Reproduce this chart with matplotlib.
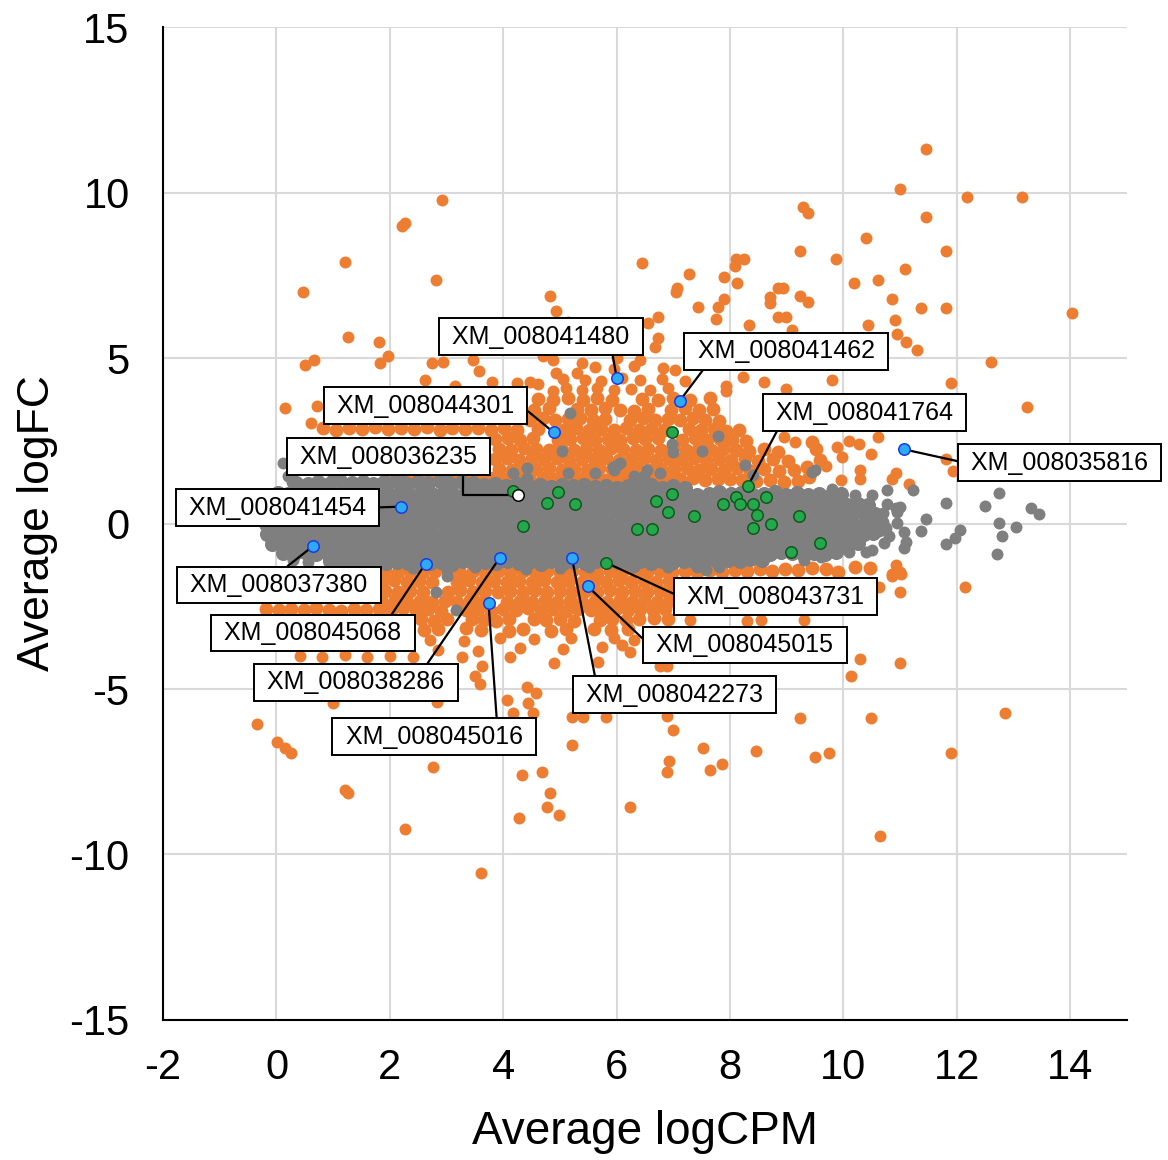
import matplotlib
matplotlib.use('Agg')
import matplotlib.pyplot as plt

plt.rcParams['font.family'] = ['Liberation Sans', 'DejaVu Sans']
plt.rcParams['axes.unicode_minus'] = False

ORANGE = '#ED7D31'
GREY = '#7F7F7F'

# grey band: genes that are not significant (logCPM, logFC)
grey_core = [
    (0.35, 1.22), (0.55, 1.18), (0.74, 1.25), (0.93, 1.2), (1.12, 1.27), (1.33, 1.21), (1.52, 1.26), (1.71, 1.19),
    (1.9, 1.24), (2.1, 1.28), (2.3, 1.2), (2.49, 1.25), (2.68, 1.22), (2.88, 1.27), (3.07, 1.19), (3.27, 1.24),
    (3.46, 1.21), (3.66, 1.16), (3.86, 1.2), (4.05, 1.14), (4.25, 1.18), (4.45, 1.12), (4.64, 1.17), (4.84, 1.1),
    (5.03, 1.15), (5.23, 1.12), (5.42, 1.17), (5.62, 1.1), (5.81, 1.14), (6.01, 1.08), (6.2, 1.13), (6.4, 1.1),
    (6.6, 1.15), (6.8, 1.08), (7.0, 1.12), (7.2, 1.06),
    (0.02, 0.92), (0.21, 0.88), (0.4, 0.93), (0.6, 0.87), (0.79, 0.91), (0.99, 0.86), (1.18, 0.92), (1.38, 0.88),
    (1.57, 0.9), (1.77, 0.85), (1.96, 0.92), (2.16, 0.89), (2.35, 0.86), (2.55, 0.91), (2.74, 0.88), (2.94, 0.93),
    (3.13, 0.87), (3.33, 0.9), (3.52, 0.86), (3.72, 0.92), (3.91, 0.88), (4.11, 0.9), (4.3, 0.86), (4.5, 0.91),
    (4.69, 0.87), (4.89, 0.92), (5.08, 0.88), (5.28, 0.9), (5.47, 0.86), (5.67, 0.91), (5.86, 0.87), (6.06, 0.92),
    (6.25, 0.88), (6.45, 0.9), (6.64, 0.85), (6.84, 0.91), (7.03, 0.88), (7.23, 0.92), (7.42, 0.87), (7.62, 0.9),
    (7.81, 0.94), (8.01, 0.88), (8.2, 0.92), (8.4, 0.86), (8.59, 0.9), (8.79, 0.95), (8.98, 0.87), (9.18, 0.91),
    (9.37, 0.86), (9.57, 0.9), (9.76, 0.84), (9.95, 0.88),
    (-0.08, 0.58), (0.11, 0.62), (0.31, 0.57), (0.5, 0.61), (0.7, 0.59), (0.89, 0.63), (1.09, 0.57), (1.28, 0.6),
    (1.48, 0.62), (1.67, 0.58), (1.87, 0.61), (2.06, 0.57), (2.26, 0.63), (2.45, 0.59), (2.65, 0.6), (2.84, 0.56),
    (3.04, 0.62), (3.23, 0.58), (3.43, 0.61), (3.62, 0.57), (3.82, 0.6), (4.01, 0.63), (4.21, 0.58), (4.4, 0.61),
    (4.6, 0.57), (4.79, 0.62), (4.99, 0.59), (5.18, 0.6), (5.38, 0.56), (5.57, 0.62), (5.77, 0.58), (5.96, 0.61),
    (6.16, 0.57), (6.35, 0.6), (6.55, 0.63), (6.74, 0.58), (6.94, 0.61), (7.13, 0.57), (7.33, 0.62), (7.52, 0.59),
    (7.72, 0.6), (7.91, 0.56), (8.11, 0.62), (8.3, 0.58), (8.5, 0.61), (8.69, 0.57), (8.89, 0.6), (9.08, 0.63),
    (9.28, 0.58), (9.47, 0.61), (9.67, 0.57), (9.86, 0.6), (10.06, 0.56), (10.25, 0.6), (10.43, 0.55),
    (-0.14, 0.28), (0.05, 0.32), (0.25, 0.27), (0.44, 0.31), (0.64, 0.29), (0.83, 0.33), (1.03, 0.27), (1.22, 0.3),
    (1.42, 0.32), (1.61, 0.28), (1.81, 0.31), (2.0, 0.27), (2.2, 0.33), (2.39, 0.29), (2.59, 0.3), (2.78, 0.26),
    (2.98, 0.32), (3.17, 0.28), (3.37, 0.31), (3.56, 0.27), (3.76, 0.3), (3.95, 0.33), (4.15, 0.28), (4.34, 0.31),
    (4.54, 0.27), (4.73, 0.32), (4.93, 0.29), (5.12, 0.3), (5.32, 0.26), (5.51, 0.32), (5.71, 0.28), (5.9, 0.31),
    (6.1, 0.27), (6.29, 0.3), (6.49, 0.33), (6.68, 0.28), (6.88, 0.31), (7.07, 0.27), (7.27, 0.32), (7.46, 0.29),
    (7.66, 0.3), (7.85, 0.26), (8.05, 0.32), (8.24, 0.28), (8.44, 0.31), (8.63, 0.27), (8.83, 0.3), (9.02, 0.33),
    (9.22, 0.28), (9.41, 0.31), (9.61, 0.27), (9.8, 0.3), (10.0, 0.26), (10.19, 0.31), (10.39, 0.27), (10.56, 0.3),
    (-0.19, -0.02), (0.0, 0.02), (0.2, -0.03), (0.39, 0.01), (0.59, -0.01), (0.78, 0.03), (0.98, -0.03), (1.17, 0.0),
    (1.37, 0.02), (1.56, -0.02), (1.76, 0.01), (1.95, -0.03), (2.15, 0.03), (2.34, -0.01), (2.54, 0.0), (2.73, -0.04),
    (2.93, 0.02), (3.12, -0.02), (3.32, 0.01), (3.51, -0.03), (3.71, 0.0), (3.9, 0.03), (4.1, -0.02), (4.29, 0.01),
    (4.49, -0.03), (4.68, 0.02), (4.88, -0.01), (5.07, 0.0), (5.27, -0.04), (5.46, 0.02), (5.66, -0.02), (5.85, 0.01),
    (6.05, -0.03), (6.24, 0.0), (6.44, 0.03), (6.63, -0.02), (6.83, 0.01), (7.02, -0.03), (7.22, 0.02), (7.41, -0.01),
    (7.61, 0.0), (7.8, -0.04), (8.0, 0.02), (8.19, -0.02), (8.39, 0.01), (8.58, -0.03), (8.78, 0.0), (8.97, 0.03),
    (9.17, -0.02), (9.36, 0.01), (9.56, -0.03), (9.75, 0.0), (9.95, -0.04), (10.14, 0.01), (10.34, -0.03), (10.52, 0.02),
    (-0.16, -0.32), (0.03, -0.28), (0.23, -0.33), (0.42, -0.29), (0.62, -0.31), (0.81, -0.27), (1.01, -0.33), (1.2, -0.3),
    (1.4, -0.28), (1.59, -0.32), (1.79, -0.29), (1.98, -0.33), (2.18, -0.27), (2.37, -0.31), (2.57, -0.3), (2.76, -0.34),
    (2.96, -0.28), (3.15, -0.32), (3.35, -0.29), (3.54, -0.33), (3.74, -0.3), (3.93, -0.27), (4.13, -0.32), (4.32, -0.29),
    (4.52, -0.33), (4.71, -0.28), (4.91, -0.31), (5.1, -0.3), (5.3, -0.34), (5.49, -0.28), (5.69, -0.32), (5.88, -0.29),
    (6.08, -0.33), (6.27, -0.3), (6.47, -0.27), (6.66, -0.32), (6.86, -0.29), (7.05, -0.33), (7.25, -0.28), (7.44, -0.31),
    (7.64, -0.3), (7.83, -0.34), (8.03, -0.28), (8.22, -0.32), (8.42, -0.29), (8.61, -0.33), (8.81, -0.3), (9.0, -0.27),
    (9.2, -0.32), (9.39, -0.29), (9.59, -0.33), (9.78, -0.3), (9.98, -0.34), (10.17, -0.29), (10.37, -0.33), (10.52, -0.28),
    (-0.08, -0.62), (0.11, -0.58), (0.31, -0.63), (0.5, -0.59), (0.7, -0.61), (0.89, -0.57), (1.09, -0.63), (1.28, -0.6),
    (1.48, -0.58), (1.67, -0.62), (1.87, -0.59), (2.06, -0.63), (2.26, -0.57), (2.45, -0.61), (2.65, -0.6), (2.84, -0.64),
    (3.04, -0.58), (3.23, -0.62), (3.43, -0.59), (3.62, -0.63), (3.82, -0.6), (4.01, -0.57), (4.21, -0.62), (4.4, -0.59),
    (4.6, -0.63), (4.79, -0.58), (4.99, -0.61), (5.18, -0.6), (5.38, -0.64), (5.57, -0.58), (5.77, -0.62), (5.96, -0.59),
    (6.16, -0.63), (6.35, -0.6), (6.55, -0.57), (6.74, -0.62), (6.94, -0.59), (7.13, -0.63), (7.33, -0.58), (7.52, -0.61),
    (7.72, -0.6), (7.91, -0.64), (8.11, -0.58), (8.3, -0.62), (8.5, -0.59), (8.69, -0.63), (8.89, -0.6), (9.08, -0.57),
    (9.28, -0.62), (9.47, -0.59), (9.67, -0.63), (9.86, -0.6), (10.06, -0.64), (10.25, -0.58),
    (0.12, -0.88), (0.31, -0.92), (0.51, -0.87), (0.7, -0.91), (0.9, -0.89), (1.09, -0.93), (1.29, -0.87), (1.48, -0.9),
    (1.68, -0.92), (1.87, -0.88), (2.07, -0.91), (2.26, -0.87), (2.46, -0.93), (2.65, -0.89), (2.85, -0.9), (3.04, -0.86),
    (3.24, -0.92), (3.43, -0.88), (3.63, -0.91), (3.82, -0.87), (4.02, -0.9), (4.21, -0.93), (4.41, -0.88), (4.6, -0.91),
    (4.8, -0.87), (4.99, -0.92), (5.19, -0.89), (5.38, -0.9), (5.58, -0.86), (5.77, -0.92), (5.97, -0.88), (6.16, -0.91),
    (6.36, -0.87), (6.55, -0.9), (6.75, -0.93), (6.94, -0.88), (7.14, -0.91), (7.33, -0.87), (7.53, -0.92), (7.72, -0.89),
    (7.92, -0.9), (8.11, -0.86), (8.31, -0.92), (8.5, -0.88), (8.7, -0.91), (8.89, -0.87), (9.09, -0.9), (9.28, -0.93),
    (9.48, -0.88), (9.67, -0.91), (9.87, -0.86),
    (0.95, -1.12), (1.15, -1.17), (1.34, -1.13), (1.54, -1.18), (1.73, -1.14), (1.93, -1.2), (2.12, -1.15), (2.32, -1.19),
    (2.51, -1.13), (2.71, -1.18), (2.9, -1.16), (3.1, -1.21), (3.29, -1.14), (3.49, -1.19), (3.68, -1.15), (3.88, -1.2),
    (4.07, -1.13), (4.27, -1.18), (4.46, -1.16), (4.66, -1.21), (4.85, -1.14), (5.05, -1.19), (5.24, -1.15), (5.44, -1.2),
    (5.63, -1.13), (5.83, -1.17), (6.02, -1.15), (6.22, -1.2), (6.41, -1.14), (6.61, -1.18), (6.8, -1.12), (7.0, -1.17),
    (7.19, -1.13), (7.39, -1.16), (7.58, -1.11), (7.78, -1.15), (7.97, -1.1), (8.17, -1.13), (8.36, -1.08), (8.56, -1.1),
]

grey_scatter = [
    (0.11, 1.84), (0.29, 1.63), (0.2, 1.45), (0.27, 1.24), (1.0, 1.4), (2.2, 1.42), (3.0, 1.38), (0.3, -1.1),
    (0.55, -1.15), (-0.06, -0.39), (-0.03, -0.54), (2.4, -1.35), (3.0, -1.38), (3.5, -1.32), (4.4, -1.36),
    (5.0, -1.33), (5.52, -1.3), (6.3, -1.32), (6.9, -1.3), (7.41, -1.3), (7.58, -1.39), (7.81, -1.3), (9.3, -1.1),
    (9.6, -1.0), (10.1, -0.85), (10.5, -0.8), (9.8, 1.05), (10.2, 0.85), (10.5, 0.85), (10.76, 0.6), (11.0, 0.5),
    (3.0, -1.6), (2.81, -2.08), (3.16, -2.6), (5.17, 3.35), (5.03, 2.18), (6.97, 2.39), (6.99, 2.15), (7.5, 2.18),
    (7.78, 2.63), (9.45, 1.57), (8.26, 1.78), (8.4, 1.48), (6.0, 1.78), (5.96, 1.63), (6.53, 1.63), (6.76, 1.54),
    (4.41, 1.69), (4.17, 1.54), (5.14, 1.54), (5.61, 1.54), (6.3, 1.45), (6.48, 1.45), (5.93, 1.72), (6.05, 1.84),
    (4.41, 1.39), (9.49, 1.63), (10.76, 1.0), (11.22, 1.0), (10.93, 0.48), (10.95, 0.36), (10.69, 0.33),
    (10.95, 0.03), (11.46, 0.15), (11.36, -0.24), (11.06, -0.27), (11.11, -0.57), (11.06, -0.73), (10.81, -0.39),
    (10.63, -0.24), (10.72, -0.6), (10.4, -0.85), (11.81, 0.63), (11.81, -0.63), (11.96, -0.45), (12.06, -0.21),
    (12.5, 0.54), (12.75, 0.91), (12.75, 0.03), (13.05, -0.12), (12.8, -0.39), (12.71, -0.91), (13.31, 0.48),
    (13.45, 0.3), (10.33, -0.09), (10.7, 0.05), (10.75, -0.15),
]

# orange: significant genes above the band
orange_up = [
    (2.05, 1.36), (2.27, 1.33), (2.5, 1.38), (2.71, 1.34), (2.93, 1.37), (3.16, 1.32), (3.38, 1.36), (3.6, 1.33),
    (3.82, 1.38), (4.03, 1.34), (4.26, 1.37), (4.48, 1.32), (4.7, 1.36), (4.91, 1.33), (5.14, 1.38), (5.36, 1.34),
    (5.58, 1.36), (5.8, 1.32), (6.01, 1.37), (6.24, 1.34), (6.46, 1.36), (6.68, 1.33), (6.9, 1.38), (7.11, 1.34),
    (7.34, 1.37), (7.56, 1.32), (7.78, 1.35), (8.0, 1.33), (8.21, 1.3), (8.45, 1.28), (8.7, 1.3), (8.95, 1.26),
    (9.2, 1.29), (9.4, 1.42),
    (3.93, 1.66), (4.15, 1.62), (4.37, 1.67), (4.58, 1.64), (4.81, 1.68), (5.03, 1.63), (5.25, 1.66), (5.47, 1.62),
    (5.69, 1.67), (5.92, 1.65), (6.14, 1.62), (6.36, 1.68), (6.57, 1.63), (6.79, 1.66), (7.01, 1.64), (7.24, 1.68),
    (7.46, 1.62), (7.67, 1.65), (7.9, 1.63), (8.12, 1.67), (8.36, 1.6), (8.6, 1.64), (8.86, 1.58), (9.12, 1.62),
    (9.35, 1.72),
    (3.85, 1.94), (4.06, 1.98), (4.28, 1.93), (4.5, 1.97), (4.72, 1.95), (4.94, 1.99), (5.16, 1.92), (5.38, 1.96),
    (5.6, 1.94), (5.82, 1.98), (6.04, 1.93), (6.26, 1.95), (6.48, 1.99), (6.7, 1.93), (6.92, 1.96), (7.14, 1.94),
    (7.36, 1.98), (7.58, 1.92), (7.8, 1.96), (8.02, 1.93), (8.26, 1.97), (8.5, 1.9), (8.76, 1.94), (9.02, 1.88),
    (9.58, 1.93),
    (3.92, 2.26), (4.14, 2.22), (4.36, 2.27), (4.58, 2.24), (4.8, 2.21), (5.02, 2.27), (5.24, 2.23), (5.46, 2.26),
    (5.68, 2.22), (5.9, 2.27), (6.12, 2.24), (6.34, 2.21), (6.56, 2.26), (6.78, 2.23), (7.0, 2.27), (7.22, 2.22),
    (7.44, 2.25), (7.66, 2.21), (7.88, 2.26), (8.1, 2.23), (8.34, 2.19), (8.6, 2.24), (8.85, 2.17), (9.52, 2.24),
    (3.86, 2.54), (4.08, 2.58), (4.3, 2.53), (4.52, 2.57), (4.96, 2.52), (5.18, 2.56), (5.4, 2.59), (5.62, 2.53),
    (5.84, 2.56), (6.06, 2.52), (6.28, 2.58), (6.5, 2.54), (6.72, 2.57), (7.16, 2.53), (7.38, 2.58), (7.6, 2.52),
    (7.82, 2.56), (8.04, 2.53), (8.28, 2.49), (9.44, 2.45),
    (0.82, 2.88), (1.05, 2.84), (1.28, 2.9), (1.5, 2.86), (1.73, 2.92), (1.96, 2.85), (2.19, 2.9), (2.42, 2.86),
    (2.65, 2.91), (2.88, 2.84), (3.1, 2.89), (3.33, 2.85), (3.56, 2.9), (3.79, 2.84), (4.02, 2.88), (4.24, 2.83),
    (4.62, 2.87), (5.07, 2.84), (5.29, 2.88), (5.51, 2.82), (5.73, 2.87), (5.95, 2.84), (6.17, 2.89), (6.39, 2.83),
    (6.61, 2.86), (6.83, 2.82), (7.27, 2.87), (7.49, 2.83), (7.71, 2.86), (7.93, 2.8), (8.15, 2.84),
    (4.48, 3.14), (4.7, 3.18), (4.92, 3.12), (5.14, 3.16), (5.36, 3.19), (5.58, 3.13), (5.8, 3.17), (6.24, 3.14),
    (6.46, 3.18), (6.68, 3.12), (6.9, 3.16), (7.12, 3.13), (7.34, 3.18), (7.56, 3.12), (7.8, 3.1),
    (4.55, 3.44), (4.8, 3.48), (5.3, 3.47), (5.55, 3.43), (5.8, 3.49), (6.05, 3.44), (6.3, 3.41), (6.55, 3.47),
    (6.95, 3.43), (7.2, 3.48), (7.45, 3.42), (7.7, 3.46),
    (4.62, 3.76), (4.88, 3.72), (5.14, 3.78), (5.4, 3.74), (5.66, 3.79), (5.92, 3.73), (6.45, 3.77), (6.72, 3.72),
    (7.0, 3.78), (7.3, 3.74), (7.64, 3.78),
]

orange_down = [
    (1.92, -1.44), (2.14, -1.48), (2.36, -1.43), (2.58, -1.47), (2.8, -1.42), (3.02, -1.46), (3.24, -1.49),
    (3.46, -1.44), (3.68, -1.47), (3.9, -1.42), (4.12, -1.46), (4.34, -1.43), (4.56, -1.48), (4.78, -1.44),
    (5.0, -1.47), (5.22, -1.42), (5.44, -1.46), (5.66, -1.49), (5.88, -1.43), (6.1, -1.47), (6.32, -1.44),
    (6.54, -1.48), (6.76, -1.42), (6.98, -1.46), (7.2, -1.43), (7.42, -1.47), (7.64, -1.41), (7.86, -1.45),
    (8.08, -1.4), (8.3, -1.44), (8.52, -1.38), (8.74, -1.42), (8.96, -1.36), (9.2, -1.4), (9.44, -1.33),
    (9.7, -1.38), (9.91, -1.48), (10.2, -1.3), (10.46, -1.33),
    (1.86, -1.76), (2.08, -1.72), (2.3, -1.77), (2.52, -1.74), (2.74, -1.78), (3.18, -1.76), (3.4, -1.72),
    (3.62, -1.77), (3.84, -1.74), (4.06, -1.78), (4.28, -1.73), (4.5, -1.76), (4.72, -1.72), (4.94, -1.77),
    (5.16, -1.74), (5.38, -1.78), (5.6, -1.73), (5.82, -1.76), (6.04, -1.72), (6.26, -1.77), (6.48, -1.74),
    (6.7, -1.78), (6.92, -1.73),
    (1.92, -2.04), (2.14, -2.08), (2.36, -2.03), (2.58, -2.07), (3.02, -2.06), (3.24, -2.02), (3.46, -2.07),
    (3.68, -2.04), (3.9, -2.08), (4.12, -2.03), (4.34, -2.06), (4.56, -2.02), (4.78, -2.07), (5.0, -2.04),
    (5.22, -2.08), (5.44, -2.03), (5.66, -2.06), (5.88, -2.02), (6.1, -2.07), (6.32, -2.04), (6.54, -2.08),
    (6.76, -2.03), (6.96, -2.06),
    (1.87, -2.36), (2.09, -2.32), (2.31, -2.37), (2.53, -2.34), (2.75, -2.38), (2.97, -2.33), (3.19, -2.36),
    (3.41, -2.32), (3.63, -2.37), (4.07, -2.38), (4.29, -2.33), (4.51, -2.36), (4.73, -2.32), (4.95, -2.37),
    (5.17, -2.34), (5.39, -2.38), (5.61, -2.33), (5.83, -2.36), (6.05, -2.32), (6.27, -2.37), (6.49, -2.34),
    (6.71, -2.38), (6.93, -2.33),
    (-0.18, -2.58), (0.04, -2.62), (0.26, -2.57), (0.48, -2.61), (0.7, -2.56), (0.92, -2.6), (1.14, -2.63),
    (1.36, -2.58), (1.58, -2.62), (1.8, -2.57), (2.02, -2.61), (2.24, -2.56), (2.46, -2.62), (2.68, -2.58),
    (2.9, -2.63), (3.34, -2.61), (3.56, -2.58), (3.78, -2.63), (4.0, -2.59), (4.22, -2.62), (4.44, -2.56),
    (4.66, -2.61), (4.88, -2.58), (5.1, -2.63), (5.32, -2.57), (5.54, -2.6), (5.76, -2.64), (5.98, -2.58),
    (6.2, -2.62), (6.42, -2.57), (6.64, -2.61), (6.86, -2.58),
    (2.55, -2.9), (2.78, -2.94), (3.0, -2.88), (3.44, -2.87), (3.66, -2.92), (3.88, -2.96), (4.1, -2.89),
    (4.54, -2.88), (4.76, -2.93), (5.0, -2.9), (5.24, -2.95), (5.7, -2.92), (5.92, -2.87), (6.16, -2.93),
    (6.4, -2.89), (6.66, -2.86), (6.9, -2.88),
    (2.6, -3.22), (2.85, -3.18), (3.35, -3.17), (3.6, -3.23), (4.1, -3.26), (4.35, -3.2), (4.85, -3.24),
    (5.1, -3.19), (5.6, -3.18), (5.9, -3.23), (6.2, -3.2),
]

orange_far = [
    (4.87, 3.99), (5.1, 4.08), (5.38, 4.04), (5.65, 4.1), (5.95, 4.03), (6.25, 4.07), (6.58, 4.02), (6.9, 4.09),
    (7.92, 4.14), (7.92, 3.99), (5.05, 4.38), (5.44, 4.35), (5.72, 4.32), (6.1, 4.4), (6.42, 4.33), (6.8, 4.38),
    (7.2, 4.3), (4.93, 4.56), (5.3, 4.56), (5.62, 4.72), (5.95, 4.66), (6.3, 4.75), (6.81, 4.71), (7.02, 4.65),
    (6.42, 4.95), (5.38, 4.86), (4.87, 4.95), (6.0, 5.0),
    (0.15, 3.5), (0.71, 3.56), (0.61, 3.05), (0.66, 4.95), (0.5, 4.8), (1.26, 5.65), (1.81, 5.47), (1.97, 5.05),
    (1.82, 4.86), (0.47, 7.0), (1.21, 7.89), (2.81, 7.37), (2.21, 9.0), (2.26, 9.09), (2.92, 9.77), (2.74, 4.86),
    (2.93, 4.89), (2.62, 4.35), (3.15, 4.14), (3.46, 4.95), (3.57, 4.62), (3.81, 4.29), (4.24, 4.26), (4.47, 4.29),
    (4.61, 4.2), (4.11, 5.47), (4.34, 5.77), (4.7, 5.05), (5.5, 5.6), (5.15, 6.1), (6.1, 5.7), (6.35, 5.3),
    (4.82, 6.86), (4.93, 6.43), (6.44, 7.88), (7.27, 7.55), (8.11, 7.98), (8.24, 7.98), (8.08, 7.79), (7.89, 7.46),
    (8.13, 7.28), (7.07, 7.13), (7.04, 7.0), (8.85, 7.13), (8.94, 7.13), (11.09, 7.7), (10.19, 7.28), (10.6, 7.37),
    (9.24, 6.86), (9.38, 6.68), (8.7, 6.83), (8.71, 6.65), (10.85, 6.77), (11.36, 6.5), (11.81, 6.5), (7.89, 6.77),
    (7.78, 6.53), (7.76, 6.19), (7.43, 6.53), (6.72, 6.25), (8.85, 6.25), (8.99, 6.25), (10.9, 6.16), (10.44, 6.01),
    (10.95, 5.74), (11.11, 5.47), (11.3, 5.23), (12.61, 4.89), (11.9, 4.26), (8.34, 6.01), (9.1, 5.86), (9.8, 4.35),
    (8.22, 4.44), (8.59, 4.29), (8.99, 4.05), (6.55, 6.07), (6.72, 5.59), (6.67, 5.32), (11.46, 11.3), (11.0, 10.12),
    (12.17, 9.85), (13.15, 9.85), (9.28, 9.55), (9.38, 9.37), (11.46, 9.25), (10.4, 8.64), (11.81, 8.22), (9.24, 8.22),
    (9.86, 7.98), (14.03, 6.37), (13.24, 3.53), (7.3, 5.05), (7.7, 4.9), (9.52, 2.24), (9.4, 1.42), (9.88, 2.3),
    (9.98, 2.02), (10.1, 2.48), (10.28, 2.39), (10.49, 2.11), (10.3, 1.63), (10.3, 1.33), (10.93, 1.54), (10.85, 1.33),
    (11.16, 1.18), (11.81, 1.96), (11.94, 1.6), (8.95, 2.62), (9.15, 2.45), (10.6, 2.6), (9.7, 1.75), (9.95, 1.3),
    (2.7, -3.52), (3.3, -3.55), (3.95, -3.46), (4.55, -3.49), (5.2, -3.47), (5.95, -3.45), (6.3, -3.52),
    (2.85, -3.82), (3.55, -3.85), (4.3, -3.76), (5.05, -3.79), (5.74, -3.72), (6.09, -3.66), (6.23, -3.87),
    (0.42, -4.0), (0.8, -4.02), (1.2, -3.98), (1.6, -4.03), (2.0, -4.0), (2.4, -4.02), (3.27, -4.02),
    (3.62, -4.32), (4.11, -4.02), (4.9, -4.2), (5.67, -4.17), (6.76, -4.32), (6.88, -4.32),
    (7.3, -2.93), (8.3, -2.95), (8.55, -2.92), (9.3, -2.92),
    (3.59, -4.86), (4.06, -5.32), (4.17, -5.71), (4.43, -5.41), (4.52, -5.71), (4.41, -4.95), (4.57, -5.11),
    (2.83, -5.38), (0.99, -5.41), (5.22, -5.86), (5.4, -5.86), (5.82, -5.86), (6.88, -5.83), (5.22, -6.68),
    (6.99, -6.25), (-0.34, -6.07), (0.01, -6.59), (0.15, -6.77), (0.26, -6.92), (2.76, -7.37), (1.21, -8.04),
    (1.26, -8.13), (2.26, -9.24), (4.33, -7.61), (4.68, -7.52), (4.82, -8.13), (4.77, -8.55), (4.98, -8.82),
    (4.27, -8.91), (3.6, -10.55), (6.23, -8.55), (10.65, -9.43), (6.93, -7.19), (6.88, -7.52), (7.64, -7.46),
    (7.85, -7.28), (7.53, -6.77), (8.45, -6.86), (9.49, -7.04), (9.74, -6.92), (11.9, -6.92), (12.85, -5.74),
    (9.24, -5.89), (10.49, -5.89), (10.14, -4.62), (10.3, -4.08), (11.0, -4.2), (12.15, -1.93), (11.0, -2.08),
    (10.63, -1.93), (10.93, -1.24), (10.86, -1.6), (10.99, -1.48), (10.86, -1.54), (11.02, -1.54), (9.91, -1.48),
    (3.5, -4.6),
]

green = [
    (6.97, 2.75), (4.96, 0.94), (4.77, 0.63), (5.26, 0.6), (4.34, -0.09), (4.17, 0.97), (6.7, 0.69), (6.97, 0.88),
    (6.9, 0.36), (7.36, 0.24), (6.35, -0.18), (6.62, -0.18), (7.87, 0.6), (8.11, 0.79), (8.17, 0.6), (8.31, 1.12),
    (8.41, 0.6), (8.63, 0.79), (8.47, 0.27), (8.73, 0.0), (8.41, -0.15), (9.22, 0.24), (9.58, -0.6), (9.08, -0.85),
    (5.81, -1.18),
]

blue = [
    (6.0, 4.41), (7.11, 3.7), (4.89, 2.75), (11.07, 2.24), (2.19, 0.51), (0.64, -0.69), (2.63, -1.21),
    (3.94, -1.03), (3.74, -2.39), (5.21, -1.03), (5.49, -1.9),
]

white = [(4.26, 0.85)]

labels = [
    'XM_008041480', 'XM_008041462', 'XM_008044301', 'XM_008041764', 'XM_008036235', 'XM_008035816',
    'XM_008041454', 'XM_008037380', 'XM_008045068', 'XM_008038286', 'XM_008045016', 'XM_008042273',
    'XM_008045015', 'XM_008043731',
]
label_targets = [
    blue[0], blue[1], blue[2], green[15], white[0], blue[3], blue[4], blue[5], blue[6], blue[7], blue[8],
    blue[9], blue[10], green[24],
]

# box centres (data units) and where the connector leaves the box
box_pos = [
    (4.66, 5.65), (8.99, 5.2), (2.63, 3.56), (10.37, 3.35), (1.98, 2.02), (13.81, 1.84), (0.02, 0.48),
    (0.04, -1.86), (0.64, -3.31), (1.4, -4.8), (2.78, -6.44), (7.02, -5.17), (8.26, -3.67), (8.8, -2.21),
]
box_rel = [
    (0.87, 0), (0.09, 0), (1, 0.5), (0.06, 0), (0.89, 0), (0, 0.5), (1, 0.5), (0.5, 1), (0.89, 1),
    (0.85, 1), (0.83, 1), (0.09, 1), (0, 0.5), (0, 0.5),
]


def xy(points):
    return [p[0] for p in points], [p[1] for p in points]


fig = plt.figure(figsize=(11.68, 11.6), dpi=100)
ax = fig.add_axes([0.1396, 0.1207, 0.8253, 0.856])

# the dense clouds are drawn with slightly bigger dots so they close up
for pts, size in ((orange_up, 100), (orange_down, 100), (orange_far, 74)):
    x, y = xy(pts)
    ax.scatter(x, y, s=size, color=ORANGE, linewidths=0, zorder=2)
for pts, size in ((grey_core, 118), (grey_scatter, 74)):
    x, y = xy(pts)
    ax.scatter(x, y, s=size, color=GREY, linewidths=0, zorder=2.5)

x, y = xy(green)
ax.scatter(x, y, s=68, color='#23A94B', edgecolors='#14551F', linewidths=1.1, zorder=5)
x, y = xy(blue)
ax.scatter(x, y, s=68, color='#2EA9F3', edgecolors='#1B3BE0', linewidths=1.1, zorder=5)
x, y = xy(white)
ax.scatter(x, y, s=68, color='white', edgecolors='black', linewidths=1.1, zorder=5)

for i, name in enumerate(labels):
    style = 'arc3'
    if name == 'XM_008036235':
        style = 'angle,angleA=90,angleB=0,rad=0'
    ax.annotate(' ' + name + ' ', xy=label_targets[i], xytext=box_pos[i], textcoords='data',
                ha='center', va='center', fontsize=18, zorder=4, annotation_clip=False,
                bbox=dict(boxstyle='square,pad=0.25', fc='white', ec='black', lw=1.4),
                arrowprops=dict(arrowstyle='-', color='black', lw=1.6, shrinkA=0, shrinkB=0,
                                relpos=box_rel[i], connectionstyle=style))

ax.set_xlim(-2, 15)
ax.set_ylim(-15, 15)
ax.set_xticks(range(-2, 15, 2))
ax.set_yticks(range(-15, 16, 5))
ax.grid(True, color='#D9D9D9', lw=1.5)
ax.set_axisbelow(True)
for side in ('top', 'right'):
    ax.spines[side].set_visible(False)
for side in ('left', 'bottom'):
    ax.spines[side].set_linewidth(1.5)
    ax.spines[side].set_color('black')
ax.tick_params(axis='both', length=0, labelsize=30)
ax.tick_params(axis='x', pad=20)
ax.tick_params(axis='y', pad=24)
ax.set_xlabel('Average logCPM', fontsize=33, labelpad=16)
ax.set_ylabel('Average logFC', fontsize=32, labelpad=8)

fig.savefig('out.png', dpi=100, facecolor='white')
